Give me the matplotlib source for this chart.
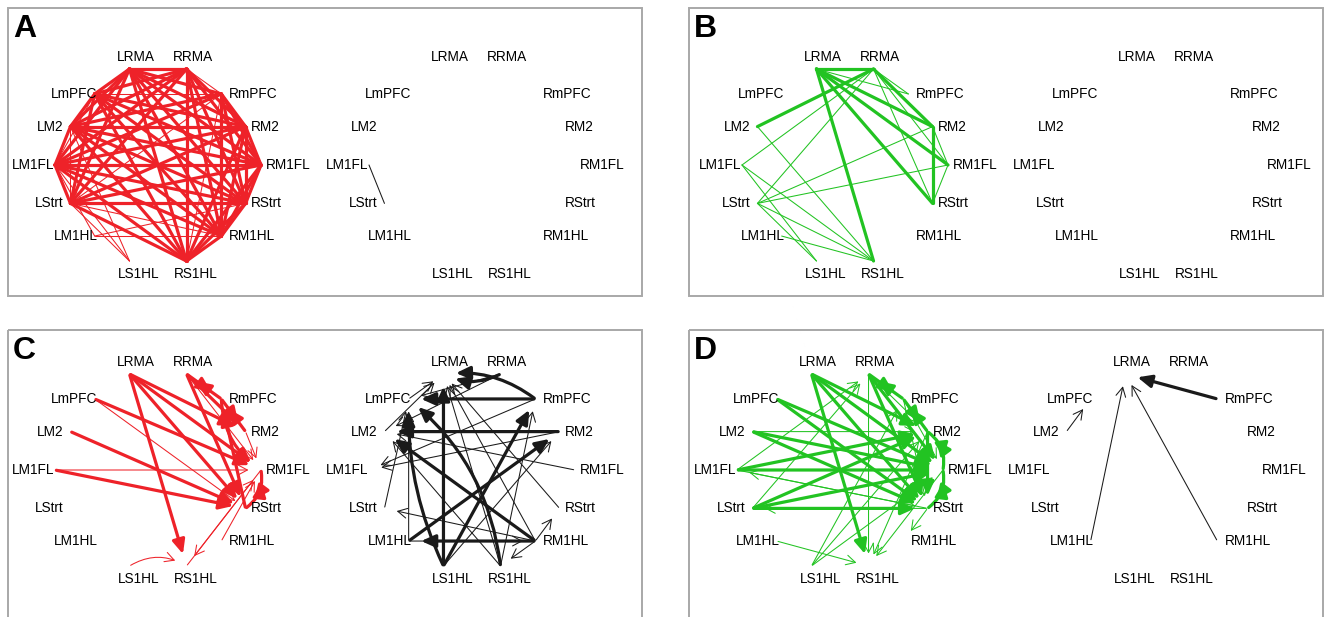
import numpy as np
import matplotlib
matplotlib.use("Agg")
import matplotlib.pyplot as plt
from matplotlib.patches import FancyArrowPatch, Rectangle

plt.rcParams["font.family"] = ["Liberation Sans", "DejaVu Sans"]

# regions in the order they sit round the circle, counter-clockwise from the right
regions = ["RM1FL", "RM2", "RmPFC", "RRMA", "LRMA", "LmPFC", "LM2",
           "LM1FL", "LStrt", "LM1HL", "LS1HL", "RS1HL", "RM1HL", "RStrt"]

# edge weights: 3 = strong link, 1 = weak link
# A: undirected, left and right network
a_left = [
    ("LRMA", "RRMA", 3), ("LRMA", "LmPFC", 3), ("LRMA", "RmPFC", 3), ("LRMA", "LM2", 3),
    ("LRMA", "RM2", 3), ("LRMA", "LM1FL", 3), ("LRMA", "RM1FL", 3), ("LRMA", "LStrt", 3),
    ("LRMA", "RStrt", 3), ("LRMA", "RM1HL", 3), ("LRMA", "RS1HL", 3),
    ("RRMA", "LmPFC", 3), ("RRMA", "RmPFC", 1), ("RRMA", "LM2", 3), ("RRMA", "RM2", 3),
    ("RRMA", "LM1FL", 3), ("RRMA", "RM1FL", 3), ("RRMA", "LStrt", 3), ("RRMA", "RStrt", 3),
    ("RRMA", "RM1HL", 3), ("RRMA", "RS1HL", 3),
    ("LmPFC", "RmPFC", 1), ("LmPFC", "LM2", 3), ("LmPFC", "RM2", 3), ("LmPFC", "LM1FL", 1),
    ("LmPFC", "RM1FL", 3), ("LmPFC", "LStrt", 3), ("LmPFC", "RStrt", 3), ("LmPFC", "RM1HL", 3),
    ("LmPFC", "RS1HL", 3),
    ("RmPFC", "LM2", 3), ("RmPFC", "RM2", 3), ("RmPFC", "LM1FL", 3), ("RmPFC", "RM1FL", 3),
    ("RmPFC", "LStrt", 1), ("RmPFC", "RStrt", 3), ("RmPFC", "RM1HL", 3), ("RmPFC", "RS1HL", 1),
    ("LM2", "RM2", 3), ("LM2", "LM1FL", 3), ("LM2", "RM1FL", 3), ("LM2", "LStrt", 1),
    ("LM2", "RStrt", 3), ("LM2", "RM1HL", 3), ("LM2", "RS1HL", 3), ("LM2", "LS1HL", 1),
    ("RM2", "LM1FL", 3), ("RM2", "RM1FL", 3), ("RM2", "LStrt", 3), ("RM2", "RStrt", 3),
    ("RM2", "RM1HL", 3), ("RM2", "RS1HL", 3),
    ("LM1FL", "RM1FL", 3), ("LM1FL", "LStrt", 3), ("LM1FL", "RStrt", 3), ("LM1FL", "RM1HL", 3),
    ("LM1FL", "RS1HL", 3), ("LM1FL", "LS1HL", 1), ("LM1FL", "LM1HL", 1),
    ("RM1FL", "LStrt", 3), ("RM1FL", "RStrt", 3), ("RM1FL", "RM1HL", 3), ("RM1FL", "RS1HL", 3),
    ("LStrt", "RStrt", 3), ("LStrt", "RM1HL", 1), ("LStrt", "RS1HL", 3), ("LStrt", "LS1HL", 1),
    ("RStrt", "RM1HL", 3), ("RStrt", "RS1HL", 3), ("RStrt", "LM1HL", 1),
    ("RM1HL", "RS1HL", 3), ("RM1HL", "LM1HL", 1),
]
a_right = [("LM1FL", "LStrt", 1)]

# B: undirected
b_left = [
    ("LRMA", "RRMA", 3), ("LRMA", "RM2", 3), ("LRMA", "RM1FL", 3), ("LRMA", "RStrt", 3),
    ("LRMA", "RS1HL", 3), ("RRMA", "LM2", 3), ("RRMA", "RM2", 3), ("RM2", "RStrt", 3),
    ("RRMA", "RmPFC", 1), ("LRMA", "RmPFC", 1), ("RRMA", "LM1FL", 1), ("RRMA", "LStrt", 1),
    ("RRMA", "RM1FL", 1), ("RRMA", "RStrt", 1), ("RM2", "LStrt", 1), ("RM1FL", "LStrt", 1),
    ("RM1FL", "RStrt", 1), ("RM2", "RM1FL", 1), ("LM2", "RS1HL", 1), ("LM1FL", "LS1HL", 1),
    ("LM1FL", "RS1HL", 1), ("LStrt", "RS1HL", 1), ("LStrt", "LS1HL", 1), ("LM1HL", "RS1HL", 1),
]
b_right = []

# C: directed (source, target, weight)
c_left = [
    ("LRMA", "RS1HL", 3), ("LRMA", "RStrt", 3), ("LRMA", "RM1FL", 3), ("LRMA", "RM2", 3),
    ("RRMA", "RM2", 3), ("RRMA", "RStrt", 3), ("RRMA", "RM1FL", 1),
    ("RRMA", "RmPFC", 3), ("RmPFC", "RRMA", 3), ("RmPFC", "RM2", 3), ("RM2", "RmPFC", 3),
    ("RmPFC", "RM1FL", 3), ("RStrt", "RmPFC", 3),
    ("LmPFC", "RM1FL", 3), ("LmPFC", "RStrt", 1), ("LM2", "RStrt", 3),
    ("LM1FL", "RM1FL", 1), ("LM1FL", "RStrt", 3),
    ("RM1FL", "RStrt", 3), ("RStrt", "RM1FL", 3), ("RM2", "RM1FL", 1),
    ("RM1HL", "RM1FL", 1), ("RM1FL", "RS1HL", 1), ("RS1HL", "RM1FL", 1), ("LS1HL", "RS1HL", 1),
]
c_right = [
    ("RRMA", "LRMA", 3), ("RmPFC", "LRMA", 3), ("RmPFC", "LmPFC", 3), ("RM2", "LM2", 3),
    ("LS1HL", "LRMA", 3), ("LS1HL", "LmPFC", 3), ("LS1HL", "RmPFC", 3), ("RS1HL", "LmPFC", 3),
    ("LM1HL", "RM2", 3), ("RM1HL", "LM1HL", 3), ("RM1HL", "LM2", 3),
    ("LmPFC", "LRMA", 1), ("LM2", "LRMA", 1), ("RStrt", "LRMA", 1), ("RM1HL", "LRMA", 1),
    ("RS1HL", "LRMA", 1), ("RRMA", "LM2", 1), ("RM1FL", "LM2", 1), ("RS1HL", "LM2", 1),
    ("RmPFC", "LM1FL", 1), ("RM2", "LM1FL", 1), ("RRMA", "LmPFC", 1), ("LStrt", "LmPFC", 1),
    ("LM1HL", "LmPFC", 1), ("RS1HL", "RmPFC", 1), ("LS1HL", "RM2", 1), ("RM1HL", "RStrt", 1),
    ("RM1HL", "RS1HL", 1), ("RM1HL", "LStrt", 1), ("LM1HL", "RM1HL", 1),
]

# D: directed
d_left = [
    ("LRMA", "RS1HL", 3), ("LRMA", "RStrt", 3), ("LRMA", "RM1FL", 3), ("LRMA", "RM2", 3),
    ("RRMA", "RmPFC", 3), ("RmPFC", "RRMA", 3), ("RRMA", "RStrt", 3), ("RRMA", "RM1FL", 3),
    ("RRMA", "RS1HL", 1), ("RRMA", "RM2", 1),
    ("RmPFC", "RM2", 3), ("RM2", "RmPFC", 3), ("RmPFC", "RM1FL", 1), ("RmPFC", "RStrt", 1),
    ("LmPFC", "RM1FL", 3), ("LmPFC", "RStrt", 3),
    ("LM2", "RM2", 1), ("LM2", "RM1FL", 3), ("LM2", "RStrt", 3),
    ("LM1FL", "RM2", 3), ("LM1FL", "RM1FL", 3), ("LM1FL", "RStrt", 1), ("LM1FL", "RRMA", 1),
    ("LStrt", "RM2", 3), ("LStrt", "RM1FL", 3), ("LStrt", "RStrt", 3), ("LStrt", "RRMA", 1),
    ("RStrt", "LStrt", 1), ("RStrt", "LM1FL", 1),
    ("RM2", "RStrt", 3), ("RM2", "RM1FL", 3), ("RM1FL", "RM2", 3),
    ("RM1FL", "RStrt", 3), ("RStrt", "RM1FL", 3),
    ("LM1HL", "RS1HL", 1), ("LS1HL", "RM1FL", 1), ("LS1HL", "RmPFC", 1), ("LS1HL", "RM2", 1),
    ("RStrt", "RM1HL", 1), ("RM1FL", "RS1HL", 1), ("RM2", "RS1HL", 1),
]
d_right = [("RmPFC", "LRMA", 3), ("LM1HL", "LRMA", 1), ("RM1HL", "LRMA", 1), ("LM2", "LmPFC", 1)]

RED = "#ee2229"
GREEN = "#22c322"
BLACK = "#1a1a1a"

# circle layout, one quadrant on the unit square (mirrored for the others)
quad = {"RM1FL": (1.0, 0.0), "RM2": (0.85, 0.40), "RmPFC": (0.615, 0.74), "RRMA": (0.277, 1.0)}
mirror = {"LRMA": "RRMA", "LmPFC": "RmPFC", "LM2": "RM2", "LM1FL": "RM1FL"}
below = {"RStrt": "RM2", "RM1HL": "RmPFC", "RS1HL": "RRMA",
         "LStrt": "LM2", "LM1HL": "LmPFC", "LS1HL": "LRMA"}
RX, RY = 103, 96

# bent edges per panel (style only)
bends = {
    "C_left": {("RmPFC", "RM1FL"): 0.25, ("LS1HL", "RS1HL"): -0.3,
               ("RM1FL", "RStrt"): -0.3, ("RStrt", "RM1FL"): 0.3},
    "C_right": {("RRMA", "LRMA"): -0.25, ("RmPFC", "LRMA"): 0.2,
                ("LS1HL", "LmPFC"): -0.12, ("RS1HL", "LmPFC"): 0.2},
    "D_left": {("RM1FL", "RStrt"): -0.3, ("RStrt", "RM1FL"): 0.3,
               ("RM2", "RM1FL"): -0.3, ("RM1FL", "RM2"): 0.3},
}


def unit_pos():
    u = dict(quad)
    for k, v in mirror.items():
        u[k] = (-quad[v][0], quad[v][1])
    for k, v in below.items():
        u[k] = (u[v][0], -u[v][1])
    return u


def draw_net(ax, cx, cy, edges, color, directed, bend):
    u = unit_pos()
    pos = {r: (cx + RX * u[r][0], cy - RY * u[r][1]) for r in regions}
    for src, dst, w in edges:
        x0, y0 = pos[src]
        x1, y1 = pos[dst]
        lw = 2.3 if w >= 3 else 0.75
        if not directed:
            ax.plot([x0, x1], [y0, y1], color=color, lw=lw, solid_capstyle="round", zorder=2)
            continue
        if w >= 3:
            style = "-|>,head_length=0.6,head_width=0.27"
            ms = 14
        else:
            style = "->,head_length=0.6,head_width=0.32"
            ms = 11
        rad = bend.get((src, dst), 0.0)
        arr = FancyArrowPatch((x0, y0), (x1, y1), arrowstyle=style, mutation_scale=ms,
                              connectionstyle=f"arc3,rad={rad}", color=color, lw=lw,
                              shrinkA=1, shrinkB=9, zorder=2)
        ax.add_patch(arr)
    for r in regions:
        x, y = pos[r]
        ux, uy = u[r]
        if abs(ux) < 0.3:
            if uy > 0:
                ax.text(x + 6, y - 12, r, ha="center", va="center", fontsize=9.8, zorder=3)
            else:
                ax.text(x + 9, y + 13, r, ha="center", va="center", fontsize=9.8, zorder=3)
        else:
            if abs(uy) > 0.6:
                dl, dr = 3, 8
            elif abs(uy) > 0.2:
                dl, dr = -7, 5
            else:
                dl, dr = -1, 5
            if ux > 0:
                ax.text(x + dr, y, r, ha="left", va="center", fontsize=9.8, zorder=3)
            else:
                ax.text(x + dl, y, r, ha="right", va="center", fontsize=9.8, zorder=3)


fig = plt.figure(figsize=(13.28, 6.17), dpi=100)
ax = fig.add_axes([0, 0, 1, 1])
ax.set_xlim(0, 1328)
ax.set_ylim(617, 0)
ax.axis("off")

panels = [
    ("A", 8, 8, 288, 158, 165, a_left, a_right, RED, False),
    ("B", 689, 8, 288, 845, 165, b_left, b_right, GREEN, False),
    ("C", 8, 330, 320, 158, 470, c_left, c_right, RED, True),
    ("D", 689, 330, 320, 840, 470, d_left, d_right, GREEN, True),
]

for letter, bx, by, bh, cx, cy, left, right, col, directed in panels:
    ax.add_patch(Rectangle((bx, by), 634, bh, fill=False, ec="#a8a8a8", lw=1.4, zorder=1))
    ax.text(bx + 5, by + 29, letter, fontsize=23, fontweight="bold", ha="left", va="baseline")
    draw_net(ax, cx, cy, left, col, directed, bends.get(letter + "_left", {}))
    draw_net(ax, cx + 314, cy, right, BLACK, directed, bends.get(letter + "_right", {}))

fig.savefig("out.png", dpi=100)
